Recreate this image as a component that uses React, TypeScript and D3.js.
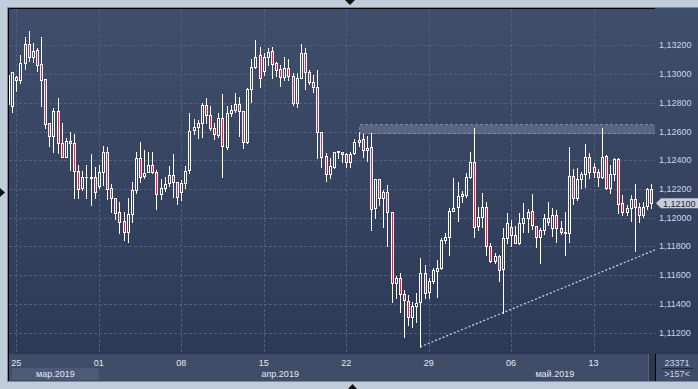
import * as React from 'react';
import * as d3 from 'd3';

// EURUSD-style H6 candles, oldest first (157 bars visible)
const opens = [
  1.12790, 1.12780, 1.12977, 1.12958, 1.13075, 1.13207, 1.13116, 1.13167, 1.13068, 1.12965,
  1.12657, 1.12569, 1.12743, 1.12518, 1.12425, 1.12534, 1.12518, 1.12327, 1.12205, 1.12281,
  1.12281, 1.12281, 1.12223, 1.12320, 1.12459, 1.12209, 1.12135, 1.12038, 1.11979, 1.11898,
  1.12024, 1.12193, 1.12418, 1.12292, 1.12316, 1.12367, 1.12316, 1.12163, 1.12205, 1.12239,
  1.12297, 1.12246, 1.12177, 1.12239, 1.12332, 1.12610, 1.12629, 1.12657, 1.12784, 1.12715,
  1.12622, 1.12576, 1.12692, 1.12494, 1.12727, 1.12750, 1.12791, 1.12743, 1.12529, 1.12896,
  1.13047, 1.13132, 1.13023, 1.13121, 1.13160, 1.13075, 1.13035, 1.12977, 1.13040, 1.12988,
  1.12796, 1.12970, 1.13144, 1.13012, 1.12947, 1.12912, 1.12599, 1.12429, 1.12302, 1.12355,
  1.12459, 1.12459, 1.12441, 1.12390, 1.12448, 1.12525, 1.12546, 1.12471, 1.12494, 1.12065,
  1.12267, 1.12135, 1.12177, 1.12038, 1.11543, 1.11578, 1.11467, 1.11422, 1.11311, 1.11385,
  1.11415, 1.11613, 1.11485, 1.11562, 1.11631, 1.11648, 1.11845, 1.11868, 1.12049, 1.12072,
  1.12153, 1.12158, 1.12285, 1.12390, 1.11942, 1.12003, 1.12072, 1.11805, 1.11701, 1.11736,
  1.11641, 1.11857, 1.11933, 1.11880, 1.11826, 1.11965, 1.11996, 1.12049, 1.11944, 1.11868,
  1.11914, 1.11996, 1.11926, 1.12019, 1.11926, 1.11891, 1.11891, 1.12290, 1.12139, 1.12267,
  1.12302, 1.12420, 1.12351, 1.12316, 1.12285, 1.12429, 1.12209, 1.12302, 1.12409, 1.12100,
  1.12042, 1.12070, 1.12128, 1.12077, 1.12019, 1.12084, 1.12200,
];
const highs = [
  1.13042, 1.13014, 1.12988, 1.13132, 1.13256, 1.13299, 1.13214, 1.13179, 1.13256, 1.12965,
  1.12657, 1.12766, 1.12835, 1.12657, 1.12553, 1.12599, 1.12583, 1.12367, 1.12327, 1.12367,
  1.12441, 1.12355, 1.12367, 1.12499, 1.12494, 1.12232, 1.12135, 1.12111, 1.12042, 1.12135,
  1.12251, 1.12459, 1.12525, 1.12471, 1.12455, 1.12455, 1.12332, 1.12269, 1.12281, 1.12360,
  1.12443, 1.12246, 1.12262, 1.12360, 1.12727, 1.12687, 1.12680, 1.12796, 1.12835, 1.12780,
  1.12657, 1.12727, 1.12859, 1.12780, 1.12784, 1.12866, 1.12842, 1.12743, 1.12905, 1.13105,
  1.13237, 1.13186, 1.13144, 1.13179, 1.13186, 1.13086, 1.13063, 1.13116, 1.13105, 1.13005,
  1.13005, 1.13209, 1.13183, 1.13028, 1.12993, 1.13028, 1.12599, 1.12448, 1.12413, 1.12459,
  1.12464, 1.12459, 1.12448, 1.12457, 1.12548, 1.12599, 1.12580, 1.12569, 1.12587, 1.12267,
  1.12267, 1.12193, 1.12228, 1.12038, 1.11596, 1.11613, 1.11497, 1.11462, 1.11415, 1.11474,
  1.11717, 1.11671, 1.11578, 1.11648, 1.11706, 1.11857, 1.11891, 1.12065, 1.12274, 1.12251,
  1.12188, 1.12309, 1.12459, 1.12622, 1.12072, 1.12170, 1.12111, 1.11822, 1.11756, 1.11740,
  1.11926, 1.12031, 1.11984, 1.11942, 1.12035, 1.12100, 1.12058, 1.12165, 1.11944, 1.11930,
  1.12024, 1.12107, 1.12065, 1.12054, 1.11979, 1.12038, 1.12490, 1.12339, 1.12344, 1.12320,
  1.12513, 1.12448, 1.12379, 1.12339, 1.12622, 1.12436, 1.12367, 1.12418, 1.12413, 1.12158,
  1.12088, 1.12158, 1.12232, 1.12100, 1.12107, 1.12209, 1.12232,
];
const lows = [
  1.12784, 1.12734, 1.12884, 1.12935, 1.13033, 1.13093, 1.13086, 1.13023, 1.12780, 1.12622,
  1.12501, 1.12459, 1.12448, 1.12420, 1.12420, 1.12332, 1.12139, 1.12139, 1.12193, 1.12139,
  1.12088, 1.12135, 1.12205, 1.12228, 1.12128, 1.12042, 1.11991, 1.11891, 1.11845, 1.11829,
  1.11972, 1.12170, 1.12246, 1.12278, 1.12316, 1.12309, 1.12058, 1.12130, 1.12188, 1.12223,
  1.12146, 1.12093, 1.12123, 1.12205, 1.12309, 1.12580, 1.12553, 1.12564, 1.12657, 1.12610,
  1.12548, 1.12564, 1.12285, 1.12478, 1.12710, 1.12734, 1.12571, 1.12487, 1.12520, 1.12807,
  1.13040, 1.12912, 1.12993, 1.13063, 1.12970, 1.12988, 1.12919, 1.12958, 1.12958, 1.12784,
  1.12773, 1.12970, 1.12894, 1.12928, 1.12877, 1.12418, 1.12355, 1.12258, 1.12278, 1.12348,
  1.12418, 1.12390, 1.12355, 1.12355, 1.12441, 1.12501, 1.12425, 1.12395, 1.11914, 1.12000,
  1.12088, 1.11937, 1.11805, 1.11411, 1.11439, 1.11342, 1.11172, 1.11253, 1.11237, 1.11276,
  1.11102, 1.11439, 1.11439, 1.11543, 1.11446, 1.11641, 1.11826, 1.11740, 1.12049, 1.11979,
  1.12111, 1.12146, 1.12274, 1.11864, 1.11914, 1.11933, 1.11740, 1.11694, 1.11687, 1.11562,
  1.11339, 1.11822, 1.11803, 1.11826, 1.11817, 1.11903, 1.11903, 1.11919, 1.11798, 1.11683,
  1.11884, 1.11949, 1.11875, 1.11833, 1.11884, 1.11740, 1.11833, 1.12093, 1.12123, 1.12205,
  1.12216, 1.12274, 1.12281, 1.12223, 1.12274, 1.12200, 1.12170, 1.12262, 1.12031, 1.12019,
  1.12019, 1.11977, 1.11768, 1.11972, 1.12007, 1.12061, 1.12070,
];
const closes = [
  1.12990, 1.13012, 1.12958, 1.13075, 1.13207, 1.13116, 1.13160, 1.13063, 1.12958, 1.12650,
  1.12569, 1.12743, 1.12518, 1.12420, 1.12534, 1.12518, 1.12327, 1.12198, 1.12281, 1.12285,
  1.12278, 1.12177, 1.12320, 1.12459, 1.12198, 1.12135, 1.12031, 1.11972, 1.11898, 1.12024,
  1.12193, 1.12413, 1.12285, 1.12309, 1.12367, 1.12316, 1.12163, 1.12205, 1.12232, 1.12297,
  1.12246, 1.12146, 1.12239, 1.12325, 1.12606, 1.12629, 1.12657, 1.12784, 1.12715, 1.12622,
  1.12580, 1.12692, 1.12499, 1.12727, 1.12750, 1.12791, 1.12743, 1.12529, 1.12896, 1.13047,
  1.13121, 1.12970, 1.13121, 1.13155, 1.13068, 1.13028, 1.12977, 1.13040, 1.12988, 1.12796,
  1.12970, 1.13144, 1.13012, 1.12947, 1.12908, 1.12599, 1.12425, 1.12302, 1.12360, 1.12459,
  1.12461, 1.12441, 1.12390, 1.12441, 1.12525, 1.12541, 1.12471, 1.12487, 1.12058, 1.12267,
  1.12135, 1.12181, 1.12038, 1.11543, 1.11578, 1.11467, 1.11425, 1.11311, 1.11385, 1.11408,
  1.11613, 1.11474, 1.11562, 1.11636, 1.11648, 1.11845, 1.11864, 1.12049, 1.12065, 1.12153,
  1.12165, 1.12281, 1.12390, 1.11937, 1.12003, 1.12072, 1.11803, 1.11701, 1.11733, 1.11636,
  1.11857, 1.11965, 1.11880, 1.11826, 1.11965, 1.11996, 1.12038, 1.11949, 1.11864, 1.11914,
  1.11996, 1.11968, 1.12019, 1.11926, 1.11898, 1.11903, 1.12290, 1.12135, 1.12267, 1.12302,
  1.12420, 1.12316, 1.12316, 1.12285, 1.12420, 1.12205, 1.12302, 1.12409, 1.12093, 1.12038,
  1.12065, 1.12128, 1.12077, 1.12019, 1.12077, 1.12200, 1.12100,
];

const priceTicks = [1.112, 1.114, 1.116, 1.118, 1.12, 1.122, 1.124, 1.126, 1.128, 1.13, 1.132];
const weekLabels = ['25', '01', '08', '15', '22', '29', '06', '13'];
const weekStartBar = [2, 22, 42, 62, 82, 102, 122, 142];
const monthLabels = ['мар.2019', 'апр.2019', 'май.2019'];
const monthStartBar = [1, 22, 110];
const lastPrice = 1.121;
// resistance zone and rising support line (anchored on two lows)
const zoneStartBar = 85;
const zone = [1.12592, 1.12652];
const trendBars = [100, 120];

const W = 698;
const H = 389;
const left = 8;
const right = 655;
const top = 8;
const bottom = 354;

const fmt = (v: number) => d3.format('.5f')(v).replace('.', ',');

export default function App() {
  const n = Math.min(opens.length, highs.length, lows.length, closes.length);
  const x = d3.scaleLinear().domain([0, 156]).range([8.05, 651.3]);
  const y = d3.scaleLinear().domain([1.112, 1.132]).range([332.7, 45.3]);

  const font = "'Liberation Sans', Arial, sans-serif";
  const candles = [];
  for (let i = 0; i < n; i++) {
    const cx = Math.round(x(i));
    const yh = Math.round(y(highs[i]));
    const yl = Math.round(y(lows[i]));
    const t = Math.round(y(Math.max(opens[i], closes[i])));
    const b = Math.round(y(Math.min(opens[i], closes[i])));
    const bear = closes[i] < opens[i];
    candles.push(
      <g key={i}>
        <rect x={cx} y={yh} width={1} height={Math.max(1, yl - yh + 1)} fill="#ffffff" />
        <rect x={cx - 1} y={t} width={3} height={Math.max(1, b - t + 1)} fill="#ffffff" />
        {b - t >= 2 && (
          <rect x={cx} y={t + 1} width={1} height={b - t - 1} fill={bear ? '#f01c4c' : 'url(#bg)'} />
        )}
      </g>
    );
  }

  // trend line through two lows, extended to the right edge
  const tx1 = x(trendBars[0]);
  const ty1 = y(lows[trendBars[0]]);
  const tx2 = x(trendBars[1]);
  const ty2 = y(lows[trendBars[1]]);
  const slope = (ty2 - ty1) / (tx2 - tx1);
  const tyEnd = ty1 + slope * (right - tx1);

  const yLast = y(lastPrice);
  const stripEnd = 648;

  return (
    <svg width={W} height={H} style={{ position: 'absolute', left: 0, top: 0 }} shapeRendering="crispEdges">
      <defs>
        <linearGradient id="bg" gradientUnits="userSpaceOnUse" x1="0" y1={top} x2="0" y2={bottom}>
          <stop offset="0" stopColor="#3f4e6b" />
          <stop offset="1" stopColor="#2c3957" />
        </linearGradient>
        <clipPath id="plot">
          <rect x={left + 1} y={top + 1} width={right - left - 1} height={bottom - top - 1} />
        </clipPath>
      </defs>

      {/* outer frame */}
      <rect x={0} y={0} width={W} height={H} fill="#c2cddc" />
      <rect x={7} y={7} width={W - 7} height={375} fill="#7d8aa0" />
      <rect x={left} y={top} width={W - left} height={bottom - top} fill="url(#bg)" />

      {/* grid */}
      {priceTicks.map((p) => (
        <line key={p} x1={left + 1} x2={right} y1={Math.round(y(p)) + 0.5} y2={Math.round(y(p)) + 0.5}
          stroke="#52607b" strokeDasharray="3,2" />
      ))}
      {weekStartBar.map((b) => (
        <line key={b} x1={Math.round(x(b)) + 0.5} x2={Math.round(x(b)) + 0.5} y1={top + 1} y2={bottom}
          stroke="#52607b" strokeDasharray="3,2" />
      ))}

      <g clipPath="url(#plot)">
        {/* resistance zone */}
        <rect x={Math.round(x(zoneStartBar)) + 0.5} y={Math.round(y(zone[1])) + 0.5}
          width={right - Math.round(x(zoneStartBar))} height={Math.round(y(zone[0]) - y(zone[1]))}
          fill="#5a6681" stroke="#7f8aa0" strokeDasharray="3,2" />
        {candles}
        <line x1={tx1} y1={ty1} x2={right} y2={tyEnd} stroke="#d4d8e2" strokeWidth={1.2}
          strokeDasharray="2,2" shapeRendering="auto" />
      </g>

      {/* plot border */}
      <rect x={left} y={top} width={right - left} height={1} fill="#000000" />
      <rect x={left} y={top} width={1} height={bottom - top + 27} fill="#000000" />

      {/* price axis */}
      {priceTicks.map((p) => (
        <text key={p} x={659} y={Math.round(y(p)) + 3} fill="#cbd6e8" fontFamily={font} fontSize={9}>
          {fmt(p)}
        </text>
      ))}
      <path d={`M${right + 1},${yLast} L${right + 6},${yLast - 5} L${W},${yLast - 5} L${W},${yLast + 5} L${right + 6},${yLast + 5} Z`}
        fill="#c9cdd5" shapeRendering="auto" />
      <text x={663} y={yLast + 3.5} fill="#1d2640" fontFamily={font} fontSize={9}>{fmt(lastPrice)}</text>

      {/* time axis */}
      <rect x={left + 1} y={bottom} width={W - left - 1} height={27} fill="#3f4d69" />
      <rect x={Math.round(x(monthStartBar[0]))} y={368} width={Math.round(x(monthStartBar[1])) - Math.round(x(monthStartBar[0]))}
        height={12} fill="#4b5a77" />
      {weekLabels.map((l, i) => (
        <text key={l + i} x={x(weekStartBar[i])} y={366} textAnchor="middle" fill="#e2e8f2"
          fontFamily={font} fontSize={9}>{l}</text>
      ))}
      {monthLabels.map((l, i) => {
        const a = x(monthStartBar[i]);
        const b = i < monthLabels.length - 1 ? x(monthStartBar[i + 1]) : stripEnd;
        return (
          <text key={l} x={(a + b) / 2} y={377} textAnchor="middle" fill="#e2e8f2"
            fontFamily={font} fontSize={9}>{l}</text>
        );
      })}
      <rect x={stripEnd} y={bottom} width={right - stripEnd} height={27} fill="#2c3852" />
      <rect x={stripEnd} y={bottom} width={1} height={27} fill="#55627c" />
      <rect x={right} y={bottom} width={1} height={27} fill="#000000" />
      <text x={677} y={366} textAnchor="middle" fill="#cbd6e8" fontFamily={font} fontSize={9}>23371</text>
      <rect x={662} y={368} width={31} height={1} fill="#1f2a42" />
      <text x={677} y={377} textAnchor="middle" fill="#cbd6e8" fontFamily={font} fontSize={9}>{'>157<'}</text>

      {/* splitter handles */}
      <path d="M345,0 L355,0 L350,5 Z" fill="#111111" shapeRendering="auto" />
      <path d="M348,389 L357,389 L352.5,384 Z" fill="#111111" shapeRendering="auto" />
      <path d="M0,188 L0,197 L5,192.5 Z" fill="#111111" shapeRendering="auto" />
    </svg>
  );
}
